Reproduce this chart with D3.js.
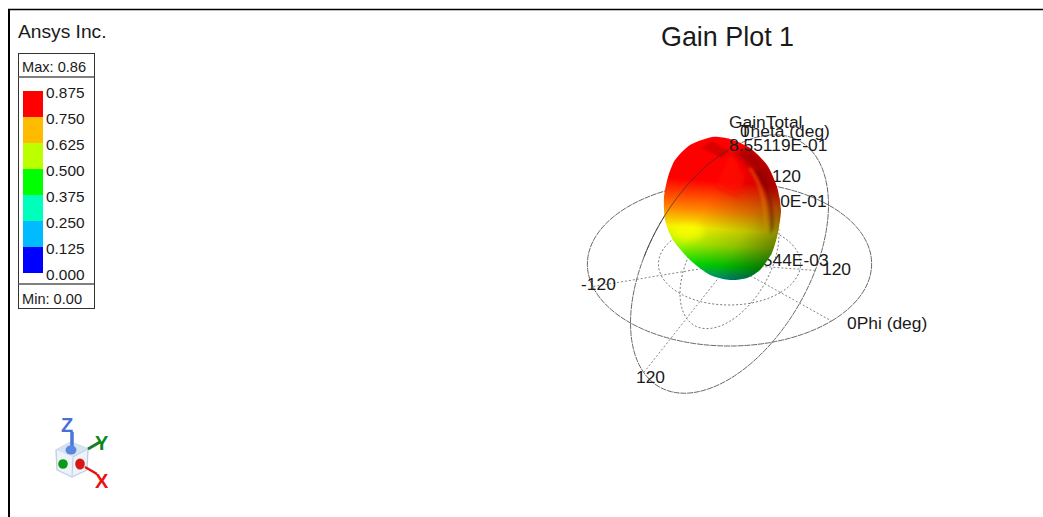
<!DOCTYPE html>
<html><head><meta charset="utf-8">
<script src="https://cdn.jsdelivr.net/npm/d3@7"></script>
<style>html,body{margin:0;padding:0;background:#fff;overflow:hidden}svg{display:block}text{font-family:"Liberation Sans",Arial,sans-serif;fill:#1a1a1a}</style>
</head><body><svg id="c" width="1043" height="517"></svg>
<script>
const legendTicks=["0.875","0.750","0.625","0.500","0.375","0.250","0.125","0.000"];
const legendColors=["#ff0000","#ffbb00","#bbff00","#00ff00","#00ffbb","#00bbff","#0000ff"];
const phiTicks=[0,120,-120];
const thetaTicks=[120,-120];
const gainStops=[0.86,0.70,0.60,0.50,0.36,0.24,0.12];
const gainStopY=[182,212,230,246,266,278,288];
const gainColors=["#ff0000","#ff8800","#f4f400","#b0f400","#00ea00","#00b080","#0070a0"];
const outlineU=[712,730,750,767,777,781,778,772,760,747,730,710,690,673,665,664,668,675,690];
const outlineV=[137,139,148,165,187,210,233,253,270,278,280,275,260,240,220,197,177,160,145];
const svg=d3.select("#c");
const defs=svg.append("defs");
// frame
svg.append("line").attr("x1",9).attr("x2",9).attr("y1",9).attr("y2",517).attr("stroke","#000").attr("stroke-width",2);
svg.append("line").attr("x1",8).attr("x2",1043).attr("y1",9.5).attr("y2",9.5).attr("stroke","#000").attr("stroke-width",1.6);
svg.append("text").attr("x",18).attr("y",38).attr("font-size",19.2).text("Ansys Inc.");
svg.append("text").attr("x",661).attr("y",46).attr("font-size",26.9).text("Gain Plot 1");
// legend
const lg=svg.append("g");
lg.append("rect").attr("x",18.5).attr("y",53.5).attr("width",76).attr("height",255).attr("fill","#fff").attr("stroke","#333");
lg.append("line").attr("x1",18).attr("x2",94).attr("y1",77).attr("y2",77).attr("stroke","#555").attr("stroke-width",1.4);
lg.append("line").attr("x1",18).attr("x2",94).attr("y1",284).attr("y2",284).attr("stroke","#555").attr("stroke-width",1.4);
lg.append("text").attr("x",22).attr("y",72).attr("font-size",14.6).text("Max: 0.86");
lg.append("text").attr("x",22).attr("y",304).attr("font-size",14.6).text("Min: 0.00");
const ly=d3.scaleBand().domain(d3.range(legendColors.length)).range([91,273]).paddingInner(0);
lg.selectAll(".sw").data(legendColors).join("rect").attr("class","sw").attr("x",23).attr("width",20)
  .attr("y",(d,i)=>ly(i)).attr("height",ly.bandwidth()).attr("fill",d=>d);
lg.selectAll(".tk").data(legendTicks).join("text").attr("class","tk").attr("x",46).attr("font-size",15.4)
  .attr("y",(d,i)=>98+i*26).text(d=>d);
// 3D projection
const cx=729.5,cy=264;
const ex=[102,57],ey=[99,-59],ez=[0,-115];
function P(phi,theta,r){const p=phi*Math.PI/180,t=theta*Math.PI/180;
  const a=r*Math.sin(t)*Math.cos(p),b=r*Math.sin(t)*Math.sin(p),c=r*Math.cos(t);
  return [cx+a*ex[0]+b*ey[0]+c*ez[0],cy+a*ex[1]+b*ey[1]+c*ez[1]];}
const line=d3.line().curve(d3.curveLinearClosed);
const open=d3.line();
const grid=svg.append("g").attr("fill","none");
const ang=d3.range(0,360,3);
const circH=r=>line(ang.map(a=>P(a,90,r)));
const circV=r=>line(ang.map(a=>P(90,a,r)));
grid.append("path").attr("d",circH(1)).attr("stroke","#444").attr("stroke-width",.8).attr("stroke-dasharray","6 .8");
grid.append("path").attr("d",circV(1)).attr("stroke","#444").attr("stroke-width",.8).attr("stroke-dasharray","6 .8");
grid.append("path").attr("d",circH(.5)).attr("stroke","#666").attr("stroke-width",.9).attr("stroke-dasharray","2 2");
grid.append("path").attr("d",circV(.5)).attr("stroke","#666").attr("stroke-width",.9).attr("stroke-dasharray","2 2");
phiTicks.forEach(d=>grid.append("path").attr("d",open([P(0,0,0),P(d,90,1)])).attr("stroke","#777").attr("stroke-width",.9).attr("stroke-dasharray","2 2"));
thetaTicks.forEach(d=>{const phi=d>0?-90:90;grid.append("path").attr("d",open([P(0,0,0),P(phi,Math.abs(d),1)])).attr("stroke","#777").attr("stroke-width",.9).attr("stroke-dasharray","2 2");});
// labels behind blob
const lab=(x,y,t)=>svg.append("text").attr("x",x).attr("y",y).attr("font-size",17.4).text(t);
lab(772,182,"120");lab(727,207,"4.28000E-01");lab(729,266,"4.27544E-03");
lab(822,275,"120");lab(581,290,"-120");lab(636,383,"120");lab(847,329,"0Phi (deg)");
// blob
const gainScale=d3.scaleLinear().domain(gainStops).range(gainColors);
const grad=defs.append("linearGradient").attr("id","bg").attr("gradientUnits","userSpaceOnUse")
  .attr("x1",735).attr("y1",137).attr("x2",725).attr("y2",290);
gainStops.forEach((v,i)=>grad.append("stop").attr("offset",(gainStopY[i]-137)/153).attr("stop-color",gainScale(v)));
const sh=defs.append("linearGradient").attr("id","sh").attr("gradientUnits","userSpaceOnUse")
  .attr("x1",706).attr("y1",205).attr("x2",778).attr("y2",250);
sh.append("stop").attr("offset",0).attr("stop-color","#000").attr("stop-opacity",0);
sh.append("stop").attr("offset",.55).attr("stop-color","#000").attr("stop-opacity",.2);
sh.append("stop").attr("offset",1).attr("stop-color","#000").attr("stop-opacity",.5);
const blur=defs.append("filter").attr("id","bl").attr("x","-30%").attr("y","-30%").attr("width","160%").attr("height","160%");
blur.append("feGaussianBlur").attr("stdDeviation",3);
const blur2=defs.append("filter").attr("id","bl2").attr("x","-30%").attr("y","-30%").attr("width","160%").attr("height","160%");
blur2.append("feGaussianBlur").attr("stdDeviation",1.2);
const outline=d3.line().curve(d3.curveCardinalClosed.tension(.3))(outlineU.map((u,i)=>[u,outlineV[i]]));
defs.append("clipPath").attr("id","cl").append("path").attr("d",outline);
const blob=svg.append("g");
blob.append("path").attr("d",outline).attr("fill","url(#bg)");
const cl=blob.append("g").attr("clip-path","url(#cl)");
cl.append("path").attr("d",outline).attr("fill","url(#sh)");
// upper right dark wedge and ridge shading
cl.append("path").attr("d","M732,152L752,148L772,172L778,205L768,190L752,168Z").attr("fill","#8a0000").attr("opacity",.7).attr("filter","url(#bl)");
cl.append("path").attr("d","M731,152L745,178L738,196L716,186Z").attr("fill","#ff1000").attr("opacity",.7).attr("filter","url(#bl)");
cl.append("path").attr("d","M712,141L730,152L722,158L702,148Z").attr("fill","#a00000").attr("opacity",.4).attr("filter","url(#bl2)");
cl.append("path").attr("d","M748,168C760,186 764,205 763,232L767,232C769,205 763,184 752,168Z").attr("fill","#e09000").attr("opacity",.35).attr("filter","url(#bl2)");
cl.append("path").attr("d","M754,170C766,186 771,205 770,235L774,228C775,205 770,186 760,172Z").attr("fill","#500000").attr("opacity",.35).attr("filter","url(#bl2)");
cl.append("ellipse").attr("cx",688).attr("cy",232).attr("rx",16).attr("ry",8).attr("fill","#ffff00").attr("opacity",.6).attr("filter","url(#bl)");
// front labels and front arc
svg.append("path").attr("fill","none").attr("stroke","#333").attr("stroke-width",.7)
  .attr("d",open(d3.range(0,62,3).map(a=>P(-90,a,1))));
lab(729,128,"GainTotal");lab(740,137,"0");lab(740,137,"Theta (deg)");
lab(729,151,"8.55119E-01");
// triad
const tr=svg.append("g").attr("stroke-linejoin","round");
tr.append("path").attr("d",open([[56,450],[71,442],[88,449],[87,470],[72,477],[57,470]])+"Z").attr("fill","#edf3f9").attr("stroke","#bcd0e2").attr("stroke-width",1.3);
tr.append("path").attr("d",open([[56,450],[71,442],[88,449],[73,457]])+"Z").attr("fill","#d5e3f2").attr("stroke","none");
tr.append("path").attr("d",open([[73,457],[88,449]])).attr("stroke","#bcd0e2");
tr.append("path").attr("d",open([[73,457],[72,477]])).attr("stroke","#bcd0e2");
tr.append("path").attr("d",open([[72,432],[72,447]])).attr("stroke","#4a78d8").attr("stroke-width",3.5);
tr.append("ellipse").attr("cx",71).attr("cy",450).attr("rx",5.5).attr("ry",4.5).attr("fill","#5b86e0");
tr.append("circle").attr("cx",63).attr("cy",464).attr("r",4.8).attr("fill","#0a9a18");
tr.append("ellipse").attr("cx",80).attr("cy",464).attr("rx",4.8).attr("ry",5.5).attr("fill","#d81818");
tr.append("path").attr("d",open([[88,449],[100,442]])).attr("stroke","#1c7a28").attr("stroke-width",3);
tr.append("path").attr("d",open([[85,467],[97,474]])).attr("stroke","#e81010").attr("stroke-width",2.5);
const ax=(x,y,t,c)=>svg.append("text").attr("x",x).attr("y",y).attr("font-size",20).attr("font-weight","bold").style("fill",c).text(t);
ax(61,432,"Z","#4a6fd8");ax(95,450,"Y","#0a8a14");ax(95,488,"X","#f01010");
</script></body></html>
